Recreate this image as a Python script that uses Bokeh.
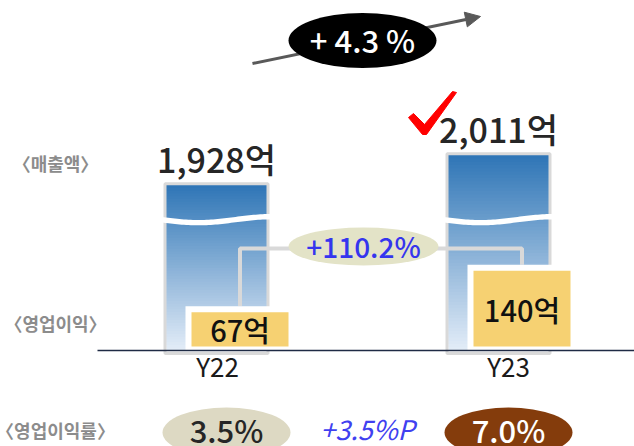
import numpy as np
from bokeh.plotting import figure
from bokeh.models import Range1d, LinearAxis, FixedTicker, Arrow, NormalHead
from bokeh.core.properties import value
from bokeh.embed import file_html
from bokeh.resources import INLINE

# ---------------- data ----------------
years = ["Y22", "Y23"]
revenue = [1928, 2011]          # 억
op_profit = [67, 140]           # 억
op_margin = [3.5, 7.0]          # %
revenue_growth = 4.3            # %
profit_growth = 110.2           # %
margin_change = 3.5             # %P
row_labels = ["〈매출액〉", "〈영업이익〉", "〈영업이익률〉"]

FONT = value("Noto Sans CJK KR")
FONT_M = value("Noto Sans CJK KR Medium, Noto Sans CJK KR")

# ---------------- layout / scales ----------------
W, H = 634, 446
BASE_PX = 350          # baseline, px from top
S_X = 282.0            # px per category step (bars)
S_Y = 0.57             # px per 억 (operating profit)
REV_CUT = 1471         # broken axis: revenue shown from this value
REV_S = 0.3614         # px per 억 (revenue, above the cut)
WAVE = 1833            # revenue value where the break wave is drawn
BAR0 = 216             # px of first bar centre
LAB0, S_L = 217, 291.0 # px of first tick label, px per tick step

p = figure(width=W, height=H, output_backend="svg", toolbar_location=None,
           x_axis_type=None, y_axis_type=None, min_border=0,
           x_range=Range1d(-BAR0 / S_X, (W - BAR0) / S_X),
           y_range=Range1d(-(H - BASE_PX) / S_Y, BASE_PX / S_Y))
p.outline_line_color = None
p.background_fill_color = "white"
p.extra_y_ranges = {"rev": Range1d(REV_CUT - (H - BASE_PX) / REV_S, REV_CUT + BASE_PX / REV_S)}
p.extra_x_ranges = {"lab": Range1d(-LAB0 / S_L, (W - LAB0) / S_L)}


def px(page_x):
    return (page_x - BAR0) / S_X


def py(page_y):
    return (BASE_PX - page_y) / S_Y


xs = np.arange(len(years), dtype=float)

# ---------------- revenue bars (gradient, broken) ----------------
bar_w = 100 / S_X
top_c = np.array([46, 117, 182])
bot_c = np.array([228, 237, 248])
N = 60
for i, v in enumerate(revenue):
    edges = np.linspace(REV_CUT, v, N + 1)[:-1]
    cols = []
    for k in range(N):
        t = (k + 0.5) / N
        c = bot_c + (top_c - bot_c) * t
        cols.append("#%02x%02x%02x" % tuple(int(round(a)) for a in c))
    p.quad(left=xs[i] - bar_w / 2, right=xs[i] + bar_w / 2, bottom=edges,
           top=[v] * N, fill_color=cols, line_color=None, y_range_name="rev")
p.vbar(x=xs, width=103 / S_X, bottom=REV_CUT - 3 / REV_S, top=[v + 1.5 / REV_S for v in revenue],
       fill_color=None, line_color="#d9d9d9", line_width=3, y_range_name="rev")

# break waves
t = np.linspace(0, 1, 50)
for i in range(len(revenue)):
    left = xs[i] - 110 / S_X / 2
    wx = left + t * 110 / S_X
    centre = -3.0 * np.sin(1.5 * np.pi * t)
    up = WAVE + (centre + 2.7) / REV_S
    lo = WAVE + (centre - 2.7) / REV_S
    p.patch(np.concatenate([wx, wx[::-1]]), np.concatenate([up, lo[::-1]]),
            fill_color="white", line_color=None, y_range_name="rev")

# revenue labels (baseline ~10px above the bar top)
p.text(x=xs, y=[v + 27 / REV_S for v in revenue], text=[f"{v:,}억" for v in revenue],
       y_range_name="rev", text_align="center", text_baseline="alphabetic",
       text_font=FONT_M, text_font_size="34px", text_color="#262626")

# ---------------- connectors ----------------
box_off = 23.5 / S_X
box_w = 97 / S_X
pad_x = 6 / S_X
pad_y = 6 / S_Y
gap = 4 / S_Y
cx = xs + box_off
conn_y = py(248)
p.line(x=[cx[0], cx[0], cx[1], cx[1]],
       y=[op_profit[0] + pad_y, conn_y, conn_y, op_profit[1] + pad_y],
       line_color="#d9d9d9", line_width=4)

# ---------------- operating profit boxes ----------------
p.quad(left=cx - box_w / 2 - pad_x, right=cx + box_w / 2 + pad_x, bottom=0,
       top=[v + pad_y for v in op_profit], fill_color="white", line_color=None)
p.quad(left=cx - box_w / 2, right=cx + box_w / 2, bottom=gap, top=op_profit,
       fill_color="#f6d172", line_color=None)
p.text(x=cx, y=[(v + gap) / 2 for v in op_profit], text=[f"{v}억" for v in op_profit],
       text_align="center", text_baseline="middle", text_font=FONT_M,
       text_font_size="29px", text_color="#111111")

# ---------------- profit growth ellipse ----------------
p.ellipse(x=[px(363)], y=[py(246)], width=150, height=38, width_units="screen",
          height_units="screen", fill_color="#e3e3c7", line_color=None)
p.text(x=[px(363)], y=[py(245)], text=[f"+{profit_growth}%"], text_align="center",
       text_baseline="middle", text_font=FONT_M, text_font_size="28px",
       text_color="#3535ee")

# ---------------- revenue growth arrow + ellipse ----------------
arr = Arrow(end=NormalHead(size=15, fill_color="#595959", line_color="#595959"),
            x_start=px(252), y_start=py(63), x_end=px(480), y_end=py(16),
            line_color="#595959", line_width=3, level="underlay")
p.add_layout(arr)
p.ellipse(x=[px(362)], y=[py(40)], width=148, height=55, width_units="screen",
          height_units="screen", fill_color="black", line_color=None)
p.text(x=[px(362)], y=[py(39)], text=[f"+ {revenue_growth} %"], text_align="center",
       text_baseline="middle", text_font=FONT_M, text_font_size="31px",
       text_color="white")

# red check mark
chk = [(408, 117), (413, 113), (424, 124), (452, 91), (456, 92), (426, 134), (422, 134)]
p.patch([px(a) for a, b in chk], [py(b) for a, b in chk], fill_color="#ff0000",
        line_color="#ff0000", line_width=1)

# ---------------- operating margin row ----------------
m_x = xs + 10 / S_X
m_y = py(432)
p.ellipse(x=m_x, y=[m_y, m_y], width=128, height=50, width_units="screen",
          height_units="screen", fill_color=["#ddd9c3", "#843c0c"], line_color=None)
p.text(x=m_x, y=[py(429)] * 2, text=[f"{v:.1f}%" for v in op_margin],
       text_align="center", text_baseline="middle", text_font=FONT_M,
       text_font_size="31px", text_color=["#262626", "white"])
p.text(x=[px(367)], y=[py(428)], text=[f"+{margin_change}%P"], text_align="center",
       text_baseline="middle", text_font=FONT, text_font_size="27px",
       text_font_style="italic", text_color="#4040f0")

# row labels
p.text(x=[px(55)] * 3, y=[py(162), py(322), py(429)], text=row_labels,
       text_align="center", text_baseline="middle", text_font=FONT,
       text_font_size="18px", text_font_style="bold", text_color="#8c8c8c")

# ---------------- category axis ----------------
ax = LinearAxis(x_range_name="lab", ticker=FixedTicker(ticks=list(range(len(years)))),
                major_label_overrides={i: y for i, y in enumerate(years)})
ax.fixed_location = 0
ax.bounds = ((97 - LAB0) / S_L, 3)
ax.axis_line_color = "#1f2b45"
ax.axis_line_width = 1.5
ax.major_tick_line_color = None
ax.minor_tick_line_color = None
ax.major_label_standoff = -10
ax.major_label_text_font = "Noto Sans CJK KR"
ax.major_label_text_font_size = "26px"
ax.major_label_text_color = "#1a1a1a"
p.add_layout(ax, "below")

open("out.html", "w").write(file_html(p, INLINE))
